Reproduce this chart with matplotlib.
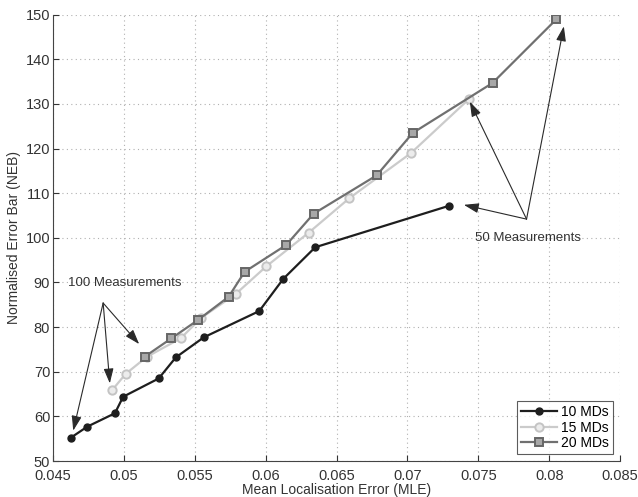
import numpy as np
import matplotlib
matplotlib.use("Agg")
import matplotlib.pyplot as plt

plt.rcParams['font.family'] = ['Liberation Sans', 'DejaVu Sans']

# 10 MDs
mle10 = [0.04625, 0.04742, 0.04937, 0.04995, 0.05246, 0.05366, 0.05563, 0.05955, 0.06124, 0.06350, 0.07295]
neb10 = [55.2, 57.7, 60.7, 64.4, 68.5, 73.2, 77.7, 83.6, 90.8, 97.9, 107.2]
# 15 MDs
mle15 = [0.04918, 0.05012, 0.05160, 0.05401, 0.05547, 0.05788, 0.06004, 0.06305, 0.06591, 0.07025, 0.07434]
neb15 = [65.9, 69.5, 73.3, 77.5, 82.1, 87.4, 93.6, 101.2, 108.9, 119.0, 131.1]
# 20 MDs
mle20 = [0.05148, 0.05336, 0.05523, 0.05739, 0.05852, 0.06145, 0.06338, 0.06783, 0.07037, 0.07600, 0.08051]
neb20 = [73.4, 77.5, 81.6, 86.8, 92.4, 98.4, 105.4, 114.0, 123.5, 134.7, 149.0]

xticks = [0.045, 0.05, 0.055, 0.06, 0.065, 0.07, 0.075, 0.08, 0.085]
yticks = [50, 60, 70, 80, 90, 100, 110, 120, 130, 140, 150]

fig = plt.figure(figsize=(6.38, 4.97), dpi=100)
ax = fig.add_axes([0.083, 0.0724, 0.889, 0.898])

ax.plot(mle10, neb10, '-o', color='#1e1e1e', lw=1.6, ms=5, mfc='#1e1e1e', mec='#1e1e1e', label='10 MDs', zorder=4)
ax.plot(mle15, neb15, '-o', color='#cbcbcb', lw=1.6, ms=6, mfc='#ececec', mec='#c4c4c4', mew=1.4, label='15 MDs', zorder=3)
ax.plot(mle20, neb20, '-s', color='#707070', lw=1.6, ms=5.5, mfc='#a8a8a8', mec='#666666', mew=1.4, label='20 MDs', zorder=5)

ax.set_xlim(0.045, 0.085)
ax.set_ylim(50, 150)
ax.set_xticks(xticks)
ax.set_xticklabels(['0.045', '0.05', '0.055', '0.06', '0.065', '0.07', '0.075', '0.08', '0.085'])
ax.set_yticks(yticks)
ax.grid(True, linestyle=(0, (1, 3)), color='#b0b0b0', lw=0.8)
for s in ['top', 'right']:
    ax.spines[s].set_visible(False)
for s in ['left', 'bottom']:
    ax.spines[s].set_color('#444444')
ax.tick_params(direction='in', length=4, labelsize=10.5, colors='#333333')
ax.tick_params(axis='x', pad=6)
ax.tick_params(axis='y', pad=2)

ax.set_xlabel('Mean Localisation Error (MLE)', fontsize=10, color='#333333', labelpad=0)
ax.set_ylabel('Normalised Error Bar (NEB)', fontsize=10, color='#333333', labelpad=3)

aprops = dict(arrowstyle='-|>,head_length=0.9,head_width=0.3', color='#2a2a2a', lw=0.8, shrinkA=0, shrinkB=0)

ax.text(0.04606, 89.9, '100 Measurements', fontsize=9.5, color='#333333', va='center')
for tip in [(0.04643, 56.8), (0.04901, 67.4), (0.05108, 76.2)]:
    ax.annotate('', xy=tip, xytext=(0.04854, 85.4), arrowprops=aprops)

ax.text(0.0785, 100.0, '50 Measurements', fontsize=9.5, color='#333333', ha='center', va='center')
for tip in [(0.07398, 107.4), (0.07440, 130.5), (0.08103, 147.4)]:
    ax.annotate('', xy=tip, xytext=(0.07840, 104.2), arrowprops=aprops)

leg = ax.legend(loc='lower right', fontsize=10, frameon=True, fancybox=False,
                edgecolor='#333333', borderpad=0.3, labelspacing=0.1, handlelength=2.6,
                handletextpad=0.3, borderaxespad=0.5)
leg.get_frame().set_linewidth(0.8)

fig.savefig('out.png', dpi=100)
